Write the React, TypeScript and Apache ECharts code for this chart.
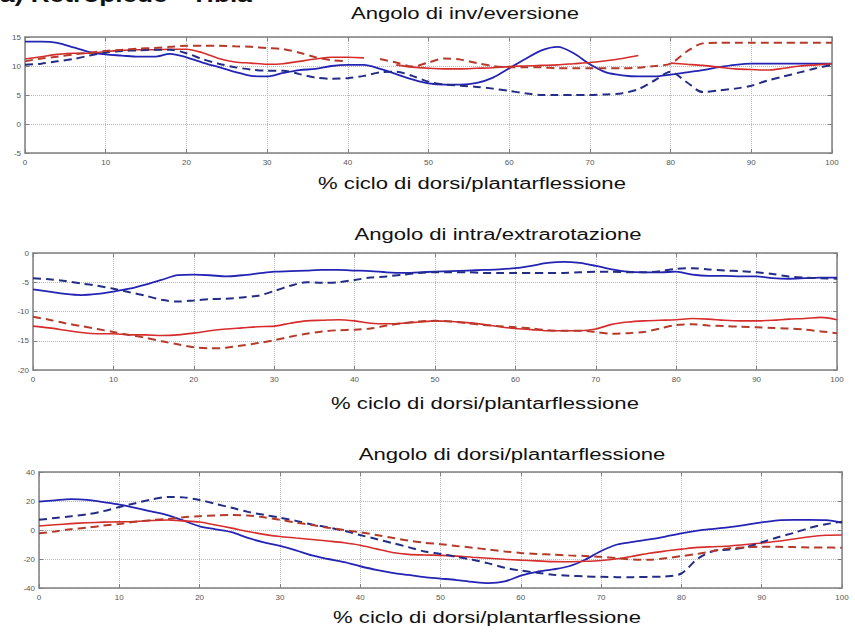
import React, { useEffect, useRef } from "react";
import * as echarts from "echarts";

const xs: number[] = Array.from({ length: 51 }, (_, i) => i * 2);

const xTicks = [0, 10, 20, 30, 40, 50, 60, 70, 80, 90, 100];

const titles = [
  "Angolo di inv/eversione",
  "Angolo di intra/extrarotazione",
  "Angolo di dorsi/plantarflessione",
];
const xName = "% ciclo di dorsi/plantarflessione";
const header = "a) Retropiede - Tibia";

// Plot 1: inversion/eversion
const p1BlueSolid = [14.2, 14.2, 14.0, 13.2, 12.4, 12.0, 11.8, 11.6, 11.6, 12.1, 11.5, 10.6, 9.8, 9.0, 8.3, 8.2, 8.8, 9.3, 9.5, 10.0, 10.2, 10.2, 9.5, 8.6, 7.7, 7.0, 6.8, 6.8, 7.1, 8.0, 9.6, 11.2, 12.7, 13.3, 12.2, 10.3, 8.9, 8.4, 8.2, 8.2, 8.5, 8.9, 9.3, 9.8, 10.2, 10.4, 10.4, 10.4, 10.4, 10.4, 10.4];
const p1BlueDashed = [10.2, 10.4, 10.8, 11.2, 11.8, 12.3, 12.6, 12.7, 12.8, 12.8, 12.2, 11.2, 10.4, 9.8, 9.4, 9.2, 9.2, 8.6, 8.0, 7.8, 7.9, 8.3, 8.9, 9.0, 8.3, 7.3, 6.8, 6.6, 6.4, 6.1, 5.7, 5.3, 5.0, 5.0, 5.0, 5.0, 5.1, 5.3, 6.0, 7.5, 9.0, 7.2, 5.5, 5.8, 6.1, 6.6, 7.5, 8.2, 8.9, 9.6, 10.2];
const p1RedSolid = [11.2, 11.6, 12.0, 12.2, 12.2, 12.5, 12.7, 12.8, 12.8, 12.9, 12.9, 12.3, 11.3, 10.7, 10.5, 10.3, 10.4, 10.8, 11.2, 11.5, 11.5, 11.4, null, 10.2, 9.8, 9.6, 9.5, 9.5, 9.6, 9.7, 9.9, 10.0, 10.1, 10.2, 10.4, 10.6, 10.9, 11.3, 11.8, null, 10.5, 10.3, 10.1, 9.8, 9.5, 9.4, 9.3, 9.6, 10.0, 10.2, 10.4];
const p1RedDashed = [10.8, 11.3, 11.6, 12.0, 12.3, 12.6, 12.8, 13.0, 13.1, 13.3, 13.5, 13.5, 13.5, 13.4, 13.3, 13.1, 12.9, 12.3, 11.5, 11.0, 10.8, null, 11.2, 10.6, 9.9, 10.6, 11.3, 11.1, 10.5, 10.0, 9.8, 9.8, 9.8, 9.6, 9.6, 9.6, 9.6, 9.6, 9.7, 10.0, 10.4, 12.5, 13.9, 14.0, 14.0, 14.0, 14.0, 14.0, 14.0, 14.0, 14.0];

// Plot 2: intra/extra-rotation
const p2BlueSolid = [-6.2, -6.6, -7.0, -7.2, -7.0, -6.6, -6.1, -5.4, -4.6, -3.8, -3.7, -3.8, -4.0, -3.8, -3.5, -3.2, -3.1, -3.0, -2.9, -2.9, -3.0, -3.1, -3.3, -3.4, -3.3, -3.2, -3.1, -3.0, -2.9, -2.8, -2.6, -2.2, -1.7, -1.5, -1.7, -2.2, -2.8, -3.2, -3.3, -3.3, -3.2, -3.7, -3.9, -3.9, -4.0, -4.0, -4.3, -4.4, -4.3, -4.2, -4.2];
const p2BlueDashed = [-4.3, -4.5, -4.8, -5.2, -5.6, -6.1, -6.7, -7.3, -8.0, -8.3, -8.1, -7.9, -7.8, -7.6, -7.3, -6.5, -5.6, -5.0, -5.1, -5.0, -4.6, -4.2, -4.0, -3.7, -3.4, -3.3, -3.3, -3.3, -3.4, -3.4, -3.4, -3.4, -3.4, -3.4, -3.3, -3.2, -3.2, -3.3, -3.3, -3.1, -2.7, -2.6, -2.8, -3.0, -3.1, -3.3, -3.6, -4.0, -4.2, -4.3, -4.4];
const p2RedSolid = [-12.5, -12.8, -13.2, -13.6, -13.8, -13.8, -14.0, -14.0, -14.1, -14.0, -13.7, -13.3, -13.0, -12.8, -12.6, -12.5, -12.0, -11.6, -11.5, -11.4, -11.6, -12.0, -12.1, -12.0, -11.8, -11.6, -11.7, -11.9, -12.2, -12.6, -12.9, -13.1, -13.3, -13.3, -13.3, -13.0, -12.2, -11.8, -11.6, -11.5, -11.4, -11.2, -11.3, -11.5, -11.6, -11.6, -11.5, -11.3, -11.2, -11.0, -11.4];
const p2RedDashed = [-10.9, -11.4, -12.0, -12.5, -13.0, -13.5, -14.0, -14.5, -15.1, -15.6, -16.1, -16.3, -16.2, -15.8, -15.4, -14.9, -14.3, -13.8, -13.4, -13.2, -13.1, -12.9, -12.4, -12.0, -11.7, -11.6, -11.7, -12.0, -12.3, -12.5, -12.7, -12.9, -13.2, -13.3, -13.3, -13.5, -13.8, -13.7, -13.5, -12.9, -12.3, -12.2, -12.4, -12.5, -12.6, -12.7, -12.8, -12.9, -13.1, -13.4, -13.7];

// Plot 3: dorsi/plantar-flexion
const p3BlueSolid = [19.5, 20.5, 21.3, 20.8, 19.2, 17.5, 15.3, 12.8, 10.2, 6.5, 2.5, 0.5, -1.5, -5.5, -8.5, -11.0, -14.0, -17.5, -20.0, -22.2, -25.0, -27.5, -29.5, -31.0, -32.5, -33.5, -34.5, -35.8, -36.6, -35.5, -31.5, -28.8, -27.2, -25.0, -20.5, -14.5, -10.0, -8.2, -6.5, -4.5, -2.3, -0.5, 0.8, 2.0, 3.5, 5.3, 6.7, 7.0, 7.0, 6.8, 5.0];
const p3BlueDashed = [7.0, 8.3, 9.5, 10.8, 13.0, 15.8, 18.5, 21.0, 22.8, 22.5, 20.7, 18.0, 15.3, 12.5, 10.5, 8.5, 6.3, 3.8, 1.8, -0.5, -3.5, -6.2, -9.0, -11.8, -14.8, -16.5, -18.5, -20.5, -23.0, -26.0, -28.0, -29.5, -30.8, -31.5, -32.0, -32.3, -32.5, -32.5, -32.3, -32.0, -30.0, -20.0, -14.5, -13.5, -12.0, -8.5, -5.0, -2.0, 1.5, 4.0, 5.7];
const p3RedSolid = [2.8, 3.6, 4.4, 5.0, 5.4, 5.6, 5.8, 6.5, 6.9, 6.3, 5.5, 3.5, 1.3, -1.0, -3.0, -4.5, -5.5, -6.5, -7.6, -8.8, -10.5, -13.0, -15.5, -16.8, -17.2, -17.5, -18.0, -18.8, -19.5, -20.2, -20.8, -21.3, -21.8, -21.9, -21.6, -21.0, -19.8, -18.0, -16.0, -14.5, -13.2, -12.0, -11.5, -11.0, -10.0, -9.0, -7.8, -6.2, -4.6, -3.6, -3.4];
const p3RedDashed = [-2.3, -1.0, 0.5, 1.6, 3.0, 4.2, 5.7, 6.8, 7.6, 8.8, 9.5, 10.0, 10.3, 10.0, 8.8, 7.0, 5.2, 3.4, 1.6, 0.0, -1.6, -3.4, -5.4, -7.3, -8.8, -9.8, -11.0, -12.2, -13.5, -14.8, -15.8, -16.5, -17.0, -17.5, -17.9, -18.5, -19.5, -20.3, -20.5, -19.5, -18.0, -16.5, -14.5, -12.5, -12.0, -11.5, -11.6, -11.8, -12.0, -12.1, -12.2];

const yRanges = [
  { min: -5, max: 15, interval: 5 },
  { min: -20, max: 0, interval: 5 },
  { min: -40, max: 40, interval: 20 },
];

const grids = [
  { left: 25, top: 37, width: 807, height: 116 },
  { left: 33, top: 253, width: 804, height: 117 },
  { left: 39, top: 472, width: 803, height: 116 },
];

const titlePos = [
  { x: 465, y: 14 },
  { x: 498, y: 235 },
  { x: 512, y: 455 },
];
const namePos = [
  { x: 472, y: 184 },
  { x: 485, y: 404 },
  { x: 487, y: 618 },
];

const plots = [
  [p1BlueSolid, p1BlueDashed, p1RedSolid, p1RedDashed],
  [p2BlueSolid, p2BlueDashed, p2RedSolid, p2RedDashed],
  [p3BlueSolid, p3BlueDashed, p3RedSolid, p3RedDashed],
];

const styles = [
  { color: "#2424b4", type: "solid", width: 1.8 },
  { color: "#232c86", type: [8, 5], width: 2 },
  { color: "#d62c2c", type: "solid", width: 1.6 },
  { color: "#b63a2a", type: [8, 5], width: 2 },
];

export default function App() {
  const ref = useRef<HTMLDivElement>(null);
  useEffect(() => {
    if (!ref.current) return;
    const chart = echarts.init(ref.current, undefined, { renderer: "svg" });
    const xAxis: any[] = [];
    const yAxis: any[] = [];
    const series: any[] = [];
    const graphic: any[] = [];
    const labelStyle = { color: "#555", fontSize: 8, fontFamily: "Arial, Liberation Sans, sans-serif" };
    const axisLine = { show: true, onZero: false, lineStyle: { color: "#808080", width: 1.5 } };
    const axisTick = { show: true, inside: true, length: 4, lineStyle: { color: "#808080" } };
    grids.forEach((g, i) => {
      xAxis.push({
        type: "value",
        gridIndex: i,
        min: 0,
        max: 100,
        interval: 10,
        position: "bottom",
        axisLine,
        axisTick,
        axisLabel: { ...labelStyle, margin: 5, formatter: (v: number) => (xTicks.includes(v) ? String(v) : "") },
        splitLine: { show: true, lineStyle: { type: "dotted", color: "#b8b8b8", width: 1 } },
      });
      xAxis.push({
        type: "value",
        gridIndex: i,
        min: 0,
        max: 100,
        interval: 10,
        position: "top",
        axisLine,
        axisTick,
        axisLabel: { show: false },
        splitLine: { show: false },
      });
      const r = yRanges[i];
      yAxis.push({
        type: "value",
        gridIndex: i,
        min: r.min,
        max: r.max,
        interval: r.interval,
        position: "left",
        axisLine,
        axisTick,
        axisLabel: { ...labelStyle, margin: 4 },
        splitLine: { show: true, lineStyle: { type: "dotted", color: "#b8b8b8", width: 1 } },
      });
      yAxis.push({
        type: "value",
        gridIndex: i,
        min: r.min,
        max: r.max,
        interval: r.interval,
        position: "right",
        axisLine,
        axisTick,
        axisLabel: { show: false },
        splitLine: { show: false },
      });
      plots[i].forEach((vals, k) => {
        const st = styles[k];
        series.push({
          type: "line",
          xAxisIndex: i * 2,
          yAxisIndex: i * 2,
          data: xs.map((x, j) => [x, vals[j]]),
          showSymbol: false,
          connectNulls: false,
          smooth: 0.3,
          lineStyle: { color: st.color, type: st.type, width: st.width },
          z: k === 1 || k === 3 ? 3 : 2,
        });
      });
      graphic.push({
        type: "text",
        x: titlePos[i].x,
        y: titlePos[i].y,
        scaleX: 1.38,
        style: {
          text: titles[i],
          align: "center",
          verticalAlign: "middle",
          fill: "#111",
          font: "16px Arial, 'Liberation Sans', sans-serif",
        },
      });
      graphic.push({
        type: "text",
        x: namePos[i].x,
        y: namePos[i].y,
        scaleX: 1.38,
        style: {
          text: xName,
          align: "center",
          verticalAlign: "middle",
          fill: "#111",
          font: "16px Arial, 'Liberation Sans', sans-serif",
        },
      });
    });
    graphic.push({
      type: "text",
      x: 0,
      y: 5,
      scaleX: 1.25,
      style: {
        text: header,
        align: "left",
        verticalAlign: "bottom",
        fill: "#111",
        font: "bold 21px Arial, 'Liberation Sans', sans-serif",
      },
    });
    chart.setOption({
      animation: false,
      backgroundColor: "#fff",
      grid: grids.map((g) => ({ ...g, containLabel: false })),
      xAxis,
      yAxis,
      series,
      graphic,
    });
    return () => chart.dispose();
  }, []);
  return (
    <div
      ref={ref}
      style={{ position: "fixed", left: 0, top: 0, width: 855, height: 637 }}
    />
  );
}
